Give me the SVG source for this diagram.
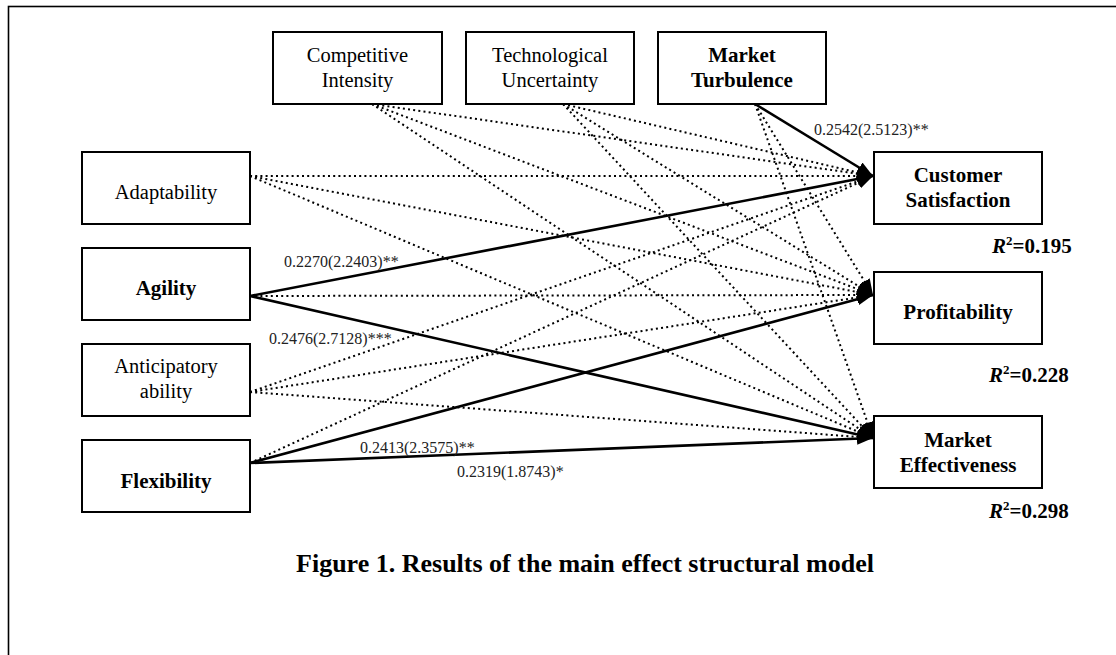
<svg xmlns="http://www.w3.org/2000/svg" width="1116" height="655" viewBox="0 0 1116 655">
  <style>
    .box { fill: #ffffff; stroke: #000000; stroke-width: 2; }
    .lbl { font-family: "Liberation Serif", "Times New Roman", serif; font-size: 20.5px; fill: #000000; text-anchor: middle; }
    .lblb { font-family: "Liberation Serif", "Times New Roman", serif; font-size: 21px; font-weight: bold; fill: #000000; text-anchor: middle; }
    .dot { fill: none; stroke: #000000; stroke-width: 2; stroke-dasharray: 2 3.2; marker-end: url(#head); }
    .sig { fill: none; stroke: #000000; stroke-width: 2.6; marker-end: url(#head); }
    .coef { font-family: "Liberation Serif", "Times New Roman", serif; font-size: 16px; fill: #222222; }
    .rsq { font-family: "Liberation Serif", "Times New Roman", serif; font-size: 21px; font-weight: bold; fill: #000000; }
    .title { font-family: "Liberation Serif", "Times New Roman", serif; font-size: 26px; font-weight: bold; fill: #000000; text-anchor: middle; }
  </style>
  <defs>
    <marker id="head" markerUnits="userSpaceOnUse" markerWidth="16" markerHeight="12" refX="16" refY="6" orient="auto">
      <path d="M0,0 L16,6 L0,12 z" fill="#000000"/>
    </marker>
  </defs>

  <rect width="1116" height="655" fill="#ffffff"/>
  <!-- page frame, open to the right and bottom -->
  <rect x="8.5" y="6.5" width="1130" height="670" fill="none" stroke="#000000" stroke-width="1.6"/>

  <!-- paths: dotted = not significant, solid = significant -->
  <g id="connectors">
    <!-- Competitive Intensity -->
    <line class="dot" x1="372" y1="104" x2="873" y2="176"/>
    <line class="dot" x1="372" y1="104" x2="873" y2="295"/>
    <line class="dot" x1="372" y1="104" x2="873" y2="438"/>
    <!-- Technological Uncertainty -->
    <line class="dot" x1="563" y1="104" x2="873" y2="176"/>
    <line class="dot" x1="563" y1="104" x2="873" y2="295"/>
    <line class="dot" x1="563" y1="104" x2="873" y2="438"/>
    <!-- Market Turbulence -->
    <line class="sig" x1="755" y1="104" x2="873" y2="176"/>
    <line class="dot" x1="755" y1="104" x2="873" y2="295"/>
    <line class="dot" x1="755" y1="104" x2="873" y2="438"/>
    <!-- Adaptability -->
    <line class="dot" x1="250" y1="176" x2="873" y2="176"/>
    <line class="dot" x1="250" y1="176" x2="873" y2="295"/>
    <line class="dot" x1="250" y1="176" x2="873" y2="438"/>
    <!-- Agility -->
    <line class="sig" x1="250" y1="296" x2="873" y2="176"/>
    <line class="dot" x1="250" y1="296" x2="873" y2="295"/>
    <line class="sig" x1="250" y1="296" x2="873" y2="438"/>
    <!-- Anticipatory ability -->
    <line class="dot" x1="250" y1="392" x2="873" y2="176"/>
    <line class="dot" x1="250" y1="392" x2="873" y2="295"/>
    <line class="dot" x1="250" y1="392" x2="873" y2="438"/>
    <!-- Flexibility -->
    <line class="dot" x1="250" y1="463" x2="873" y2="176"/>
    <line class="sig" x1="250" y1="463" x2="873" y2="295"/>
    <line class="sig" x1="250" y1="463" x2="873" y2="438"/>
  </g>

  <g id="coefficients">
    <text class="coef" x="814" y="135">0.2542(2.5123)**</text>
    <text class="coef" x="284" y="267">0.2270(2.2403)**</text>
    <text class="coef" x="269" y="344">0.2476(2.7128)***</text>
    <text class="coef" x="360" y="453">0.2413(2.3575)**</text>
    <text class="coef" x="457" y="477">0.2319(1.8743)*</text>
  </g>

  <g id="competitive-intensity">
    <rect class="box" x="273" y="32" width="169" height="72"/>
    <text class="lbl" x="357.5" y="62">Competitive</text>
    <text class="lbl" x="357.5" y="87">Intensity</text>
  </g>
  <g id="technological-uncertainty">
    <rect class="box" x="466" y="32" width="168" height="72"/>
    <text class="lbl" x="550" y="62">Technological</text>
    <text class="lbl" x="550" y="87">Uncertainty</text>
  </g>
  <g id="market-turbulence">
    <rect class="box" x="658" y="32" width="168" height="72"/>
    <text class="lblb" x="742" y="62">Market</text>
    <text class="lblb" x="742" y="87">Turbulence</text>
  </g>

  <g id="adaptability">
    <rect class="box" x="82" y="152" width="168" height="72"/>
    <text class="lbl" x="166" y="199">Adaptability</text>
  </g>
  <g id="agility">
    <rect class="box" x="82" y="248" width="168" height="72"/>
    <text class="lblb" x="166" y="295">Agility</text>
  </g>
  <g id="anticipatory-ability">
    <rect class="box" x="82" y="344" width="168" height="72"/>
    <text class="lbl" x="166" y="373">Anticipatory</text>
    <text class="lbl" x="166" y="398">ability</text>
  </g>
  <g id="flexibility">
    <rect class="box" x="82" y="440" width="168" height="72"/>
    <text class="lblb" x="166" y="488">Flexibility</text>
  </g>

  <g id="customer-satisfaction">
    <rect class="box" x="874" y="152" width="168" height="72"/>
    <text class="lblb" x="958" y="182">Customer</text>
    <text class="lblb" x="958" y="207">Satisfaction</text>
    <text class="rsq" x="992" y="253"><tspan font-style="italic">R</tspan><tspan dy="-8" font-size="13">2</tspan><tspan dy="8">=0.195</tspan></text>
  </g>
  <g id="profitability">
    <rect class="box" x="874" y="272" width="168" height="72"/>
    <text class="lblb" x="958" y="319">Profitability</text>
    <text class="rsq" x="989" y="382"><tspan font-style="italic">R</tspan><tspan dy="-8" font-size="13">2</tspan><tspan dy="8">=0.228</tspan></text>
  </g>
  <g id="market-effectiveness">
    <rect class="box" x="874" y="416" width="168" height="72"/>
    <text class="lblb" x="958" y="447">Market</text>
    <text class="lblb" x="958" y="472">Effectiveness</text>
    <text class="rsq" x="989" y="518"><tspan font-style="italic">R</tspan><tspan dy="-8" font-size="13">2</tspan><tspan dy="8">=0.298</tspan></text>
  </g>

  <text class="title" x="585" y="572">Figure 1. Results of the main effect structural model</text>
</svg>
